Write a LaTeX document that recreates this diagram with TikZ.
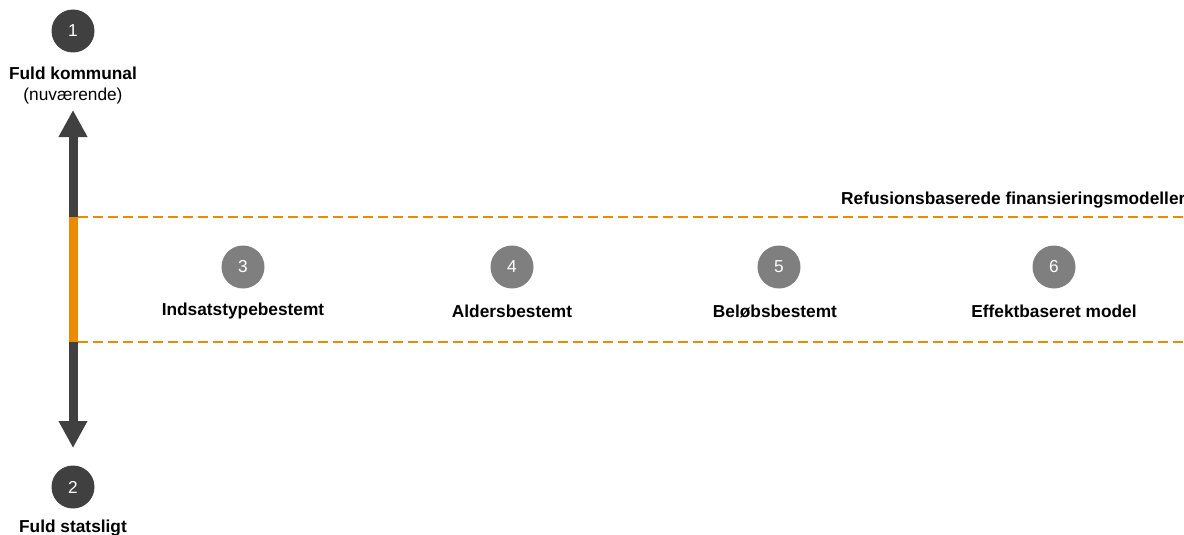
\documentclass[tikz,border=0pt]{standalone}
\usepackage{fontspec}
\setmainfont{Liberation Sans}
\usepackage{xcolor}
\usetikzlibrary{arrows.meta, positioning}

\definecolor{darknum}{HTML}{404040}
\definecolor{greynum}{HTML}{7F7F7F}
\definecolor{refusion}{HTML}{ED8B00}

\begin{document}
\begin{tikzpicture}[x=1pt,y=-1pt,on grid,>={Triangle[width=27pt,length=27pt]},
        every node/.style={font=\fontsize{17.3}{20}\selectfont},
        num/.style={circle,fill=darknum,text=white,minimum size=43pt,inner sep=0pt},
        model/.style={num,fill=greynum},
        title/.style={font=\fontsize{17.3}{20}\selectfont\bfseries},
        band/.style={draw=refusion,line width=2.8pt,dash pattern=on 10pt off 5pt}]

    \useasboundingbox (0,0) rectangle (1184,535);
    \clip (0,0) rectangle (1184,535);

    % the two ends of the scale
    \node[num] (n1) at (73,31) {1};
    \node[title] (kommunal) [below=42pt of n1] {Fuld kommunal};
    \node (nu) [below=23pt of kommunal] {(nuværende)};
    \node[num] (n2) at (73,487) {2};
    \node[title] (stat) [below=41pt of n2] {Fuld statsligt};

    \coordinate (arrowtop) at (73,110);
    \coordinate (arrowbot) at (73,448);
    \draw[darknum,line width=9pt,<->] (arrowtop) -- (arrowbot);

    % band of refusion based models
    \coordinate (bandNW) at (73,217);
    \coordinate (bandSW) at (73,342);
    \coordinate (bandNE) at (1184,217);
    \coordinate (bandSE) at (1184,342);
    \draw[refusion,line width=9pt] (bandNW) -- (bandSW);
    \draw[band] ([xshift=4.5pt]bandNW) -- (bandNE);
    \draw[band] ([xshift=4.5pt]bandSW) -- (bandSE);
    \node[title,anchor=base west,inner sep=0pt] (refu) at (841,204) {Refusionsbaserede finansieringsmodeller};

    \node[model] (n3) at (243,267) {3};
    \node[model] (n4) at (512,267) {4};
    \node[model] (n5) at (779,267) {5};
    \node[model] (n6) at (1054,267) {6};
    \node[title] (m3) [below=44pt of n3] {Indsatstypebestemt};
    \node[title] (m4) [below=44pt of n4] {Aldersbestemt};
    \node[title] (m5) [below=44pt of n5,xshift=-4pt] {Beløbsbestemt};
    \node[title] (m6) [below=44pt of n6] {Effektbaseret model};
\end{tikzpicture}
\end{document}
